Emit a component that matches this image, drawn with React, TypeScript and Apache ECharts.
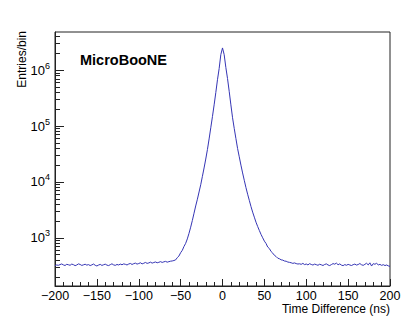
import React, { useEffect, useRef } from 'react';
import * as echarts from 'echarts';

// Histogram: 2 ns bins centred at -200, -198, ..., 200
const BIN_START = -200;
const BIN_WIDTH = 2;

// t = -200 .. -62
const leftBaseline = [
  318, 326, 322, 331, 340, 327, 319, 335, 329, 322, 338, 330, 317, 326, 341, 333, 320, 328, 336, 324,
  331, 318, 327, 339, 322, 313, 325, 334, 320, 329, 337, 324, 318, 330, 342, 327, 321, 333, 326, 338,
  329, 341, 335, 326, 339, 347, 333, 344, 352, 338, 346, 357, 341, 350, 362, 348, 355, 366, 352, 361,
  369, 357, 364, 374, 362, 371, 378, 366, 374, 381,
];
// t = -60 .. -2
const leftRise = [
  385, 392, 402, 441, 472, 541, 596, 699, 794, 955,
  1202, 1549, 2042, 2754, 3715, 4898, 6607, 8913, 12589, 17783,
  25704, 38019, 58884, 93325, 147911, 239883, 398107, 676083, 1071519, 1905461,
];
// t = 0
const peak = [2510000];
// t = 2 .. 90
const rightFall = [
  1900000, 1120000, 710000, 420000, 240000, 141000, 91000, 60000, 39800, 28200,
  20000, 14500, 10700, 7940, 6030, 4680, 3630, 2880, 2340, 1900,
  1590, 1350, 1150, 1000, 871, 790, 682, 641, 568, 531,
  485, 462, 431, 421, 403, 398, 384, 380, 368, 363,
  357, 348, 355, 345, 339,
];
// t = 92 .. 200
const rightBaseline = [
  342, 335, 348, 331, 339, 327, 344, 333, 325, 338,
  330, 322, 336, 328, 319, 333, 341, 326, 318, 331,
  345, 337, 352, 329, 341, 324, 317, 331, 322, 334,
  326, 319, 330, 338, 325, 332, 346, 329, 321, 335,
  350, 327, 356, 312, 344, 336, 349, 327, 334, 321,
  330, 318, 326, 314, 308,
];

const counts = [...leftBaseline, ...leftRise, ...peak, ...rightFall, ...rightBaseline];

const X_MIN = -200;
const X_MAX = 200;
const X_INTERVAL = 50;
const Y_MIN = 137;
const Y_MAX = 4.84e6;
const yMajorTicks = [1e3, 1e4, 1e5, 1e6];
const yMinorTicks = [
  200, 300, 400, 500, 600, 700, 800, 900,
  2000, 3000, 4000, 5000, 6000, 7000, 8000, 9000,
  20000, 30000, 40000, 50000, 60000, 70000, 80000, 90000,
  200000, 300000, 400000, 500000, 600000, 700000, 800000, 900000,
  2000000, 3000000, 4000000,
];

const TITLE = 'MicroBooNE';
const X_NAME = 'Time Difference (ns)';
const Y_NAME = 'Entries/bin';

const FONT = '"Liberation Sans", Arial, Helvetica, sans-serif';

export default function App() {
  const ref = useRef<HTMLDivElement>(null);

  useEffect(() => {
    if (!ref.current) return;
    const chart = echarts.init(ref.current, undefined, { renderer: 'svg' });
    const data = counts.map((c, i) => [BIN_START + i * BIN_WIDTH, c]);

    chart.setOption({
      animation: false,
      backgroundColor: '#fff',
      title: {
        text: TITLE,
        left: 80,
        top: 52,
        padding: 0,
        textStyle: { fontSize: 14.5, fontWeight: 'bold', color: '#000', fontFamily: FONT },
      },
      grid: {
        left: 55,
        right: 29,
        top: 32,
        bottom: 33,
        show: true,
        borderColor: '#222',
        borderWidth: 1,
        backgroundColor: 'transparent',
      },
      graphic: [
        {
          type: 'text',
          x: 22,
          y: 31,
          rotation: Math.PI / 2,
          style: {
            text: Y_NAME,
            fontSize: 12,
            fontFamily: FONT,
            fill: '#000',
            align: 'right',
            verticalAlign: 'middle',
          },
        },
        {
          type: 'text',
          x: 390,
          y: 309,
          style: {
            text: X_NAME,
            fontSize: 12,
            fontFamily: FONT,
            fill: '#000',
            align: 'right',
            verticalAlign: 'middle',
          },
        },
      ],
      xAxis: {
        type: 'value',
        min: X_MIN,
        max: X_MAX,
        interval: X_INTERVAL,
        axisLine: { show: true, onZero: false, lineStyle: { color: '#222', width: 1 } },
        axisTick: { show: true, inside: true, length: 7, lineStyle: { color: '#222' } },
        minorTick: { show: true, splitNumber: 5, length: 4, lineStyle: { color: '#222' } },
        splitLine: { show: false },
        minorSplitLine: { show: false },
        axisLabel: {
          margin: 3,
          fontSize: 12.5,
          lineHeight: 13,
          fontFamily: FONT,
          color: '#000',
          formatter: (v: number) => (v < 0 ? '\u2212' + Math.abs(v) : String(v)),
        },
      },
      yAxis: [
        {
          type: 'log',
          logBase: 10,
          min: Y_MIN,
          max: Y_MAX,
          position: 'left',
          axisLine: { show: true, onZero: false, lineStyle: { color: '#222', width: 1 } },
          axisTick: {
            show: true,
            inside: true,
            length: 9,
            customValues: yMajorTicks,
            lineStyle: { color: '#222' },
          },
          splitLine: { show: false },
          axisLabel: {
            customValues: yMajorTicks,
            margin: 5,
            color: '#000',
            formatter: (v: number) => `{b|10}{s|${Math.round(Math.log10(v))}}`,
            rich: {
              b: { fontSize: 13, lineHeight: 18, verticalAlign: 'middle', fontFamily: FONT, color: '#000' },
              s: { fontSize: 9, lineHeight: 10, verticalAlign: 'top', fontFamily: FONT, color: '#000' },
            },
          },
        },
        {
          type: 'log',
          logBase: 10,
          min: Y_MIN,
          max: Y_MAX,
          position: 'left',
          axisLine: { show: false, onZero: false },
          axisTick: {
            show: true,
            inside: true,
            length: 5,
            customValues: yMinorTicks,
            lineStyle: { color: '#222' },
          },
          axisLabel: { show: false },
          splitLine: { show: false },
        },
      ],
      series: [
        {
          type: 'line',
          yAxisIndex: 0,
          symbol: 'none',
          data,
          lineStyle: { color: '#3535b5', width: 1 },
        },
      ],
    });

    return () => chart.dispose();
  }, []);

  return (
    <div
      ref={ref}
      style={{ position: 'fixed', left: 0, top: 0, width: 419, height: 319 }}
    />
  );
}
